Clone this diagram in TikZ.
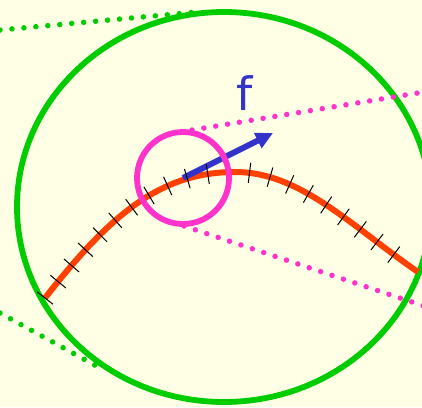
\documentclass[tikz,border=0pt]{standalone}
\usepackage{fontspec}
\setsansfont{DejaVu Sans}
\usetikzlibrary{arrows.meta,decorations.markings}
\definecolor{paper}{RGB}{255,255,230}
\definecolor{viewgreen}{RGB}{0,204,0}
\definecolor{curvered}{RGB}{255,64,0}
\definecolor{lenspink}{RGB}{255,51,204}
\definecolor{forceblue}{RGB}{51,51,204}

\begin{document}
\begin{tikzpicture}[x=1pt, y=-1pt,
    bigview/.style={draw=viewgreen, line width=5.8pt},
    greenray/.style={viewgreen, line width=5.5pt, line cap=round, dash pattern=on 0pt off 12pt},
    pinkray/.style={lenspink, line width=5.5pt, line cap=round, dash pattern=on 0pt off 12pt},
    lens/.style={draw=lenspink, line width=5.8pt},
    strand/.style={curvered, line width=6pt},
    ticks/.style={decoration={markings,
        mark=between positions 0 and 0.98 step 0.04667 with {\draw[black, line width=1pt] (0,-10pt) -- (0,10pt);}},
        decorate},
    arr/.style={-{Triangle[length=17pt, width=16pt]}, forceblue, line width=6pt}
]
    \useasboundingbox (0,0) rectangle (422,407);
    \fill[paper] (0,0) rectangle (422,407);
    \clip (0,0) rectangle (422,407);

    % points
    \coordinate (vc) at (224,207);
    \coordinate (lc) at (183,178);
    \coordinate (tip) at (273,133);
    \coordinate (gt1) at (0,30);
    \coordinate (gt2) at (197,12);
    \coordinate (gb1) at (0,313);
    \coordinate (gb2) at (100,368);
    \coordinate (pt1) at (192,130);
    \coordinate (pt2) at (424,92);
    \coordinate (pb1) at (184,226);
    \coordinate (pb2) at (424,306);
    \coordinate (cs) at (45,298);
    \coordinate (cm) at (235,172);
    \coordinate (ce) at (418,272);

    \draw[greenray] (gt1) -- (gt2);
    \draw[greenray] (gb1) -- (gb2);
    \draw[bigview] (vc) ellipse [x radius=207, y radius=195];

    \draw[pinkray] (pt1) -- (pt2);
    \draw[pinkray] (pb1) -- (pb2);

    \draw[strand] (cs) .. controls (110,215) and (160,172) .. (cm)
        .. controls (300,172) and (350,225) .. (ce);
    \draw[arr] (lc) -- (tip);
    \path[ticks] (cs) .. controls (110,215) and (160,172) .. (cm)
        .. controls (300,172) and (350,225) .. (ce);

    \draw[lens] (lc) circle [radius=46];

    \node[anchor=base, inner sep=0pt, text=forceblue, font=\sffamily\fontsize{46}{50}\selectfont] (f) at (245,110) {f};
\end{tikzpicture}
\end{document}
